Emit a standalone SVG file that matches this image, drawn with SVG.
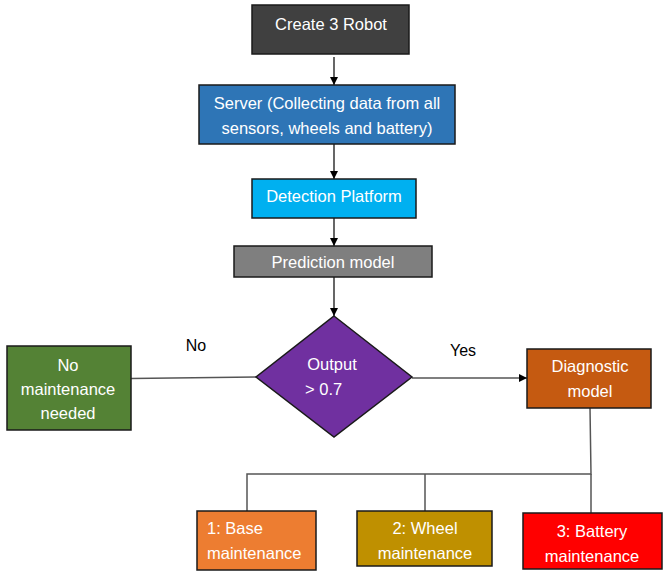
<svg xmlns="http://www.w3.org/2000/svg" width="667" height="578" viewBox="0 0 667 578">
<style>
.box{stroke:#1a1a1a;stroke-width:1.5}
.t{font-family:"Liberation Sans",Arial,sans-serif;font-size:16.5px;fill:#fff;text-anchor:middle}
.s{text-anchor:start}
.lbl{font-family:"Liberation Sans",Arial,sans-serif;font-size:16px;fill:#000;text-anchor:middle}
.c{stroke:#000;stroke-width:1.2;fill:none}
.g{stroke:#555;stroke-width:1.5;fill:none}
</style>
<defs>
<marker id="ah" viewBox="0 0 10 10" refX="10" refY="5" markerWidth="8" markerHeight="8" markerUnits="userSpaceOnUse" orient="auto">
<path d="M0,0 L10,5 L0,10 z" fill="#000"/>
</marker>
</defs>
<rect width="667" height="578" fill="#fff"/>
<g id="connectors">
<line class="c" x1="334" y1="57" x2="334" y2="85" marker-end="url(#ah)"/>
<line class="c" x1="334" y1="144" x2="334" y2="179" marker-end="url(#ah)"/>
<line class="c" x1="334" y1="218" x2="334" y2="246" marker-end="url(#ah)"/>
<line class="c" x1="334" y1="277" x2="334" y2="316" marker-end="url(#ah)"/>
<line class="g" x1="131" y1="378.5" x2="256" y2="377"/>
<line class="c" x1="412" y1="378" x2="527" y2="378" marker-end="url(#ah)"/>
<polyline class="g" points="590,408 591,474 247,474 247,511"/>
<line class="g" x1="425" y1="474" x2="425" y2="511"/>
<line class="g" x1="591" y1="474" x2="591" y2="513"/>
<text class="lbl" x="196" y="351">No</text>
<text class="lbl" x="463" y="356">Yes</text>
</g>
<g id="create">
<rect class="box" x="252" y="5" width="157" height="49" fill="#404040"/>
<text class="t" x="331" y="30">Create 3 Robot</text>
</g>
<g id="server">
<rect class="box" x="199" y="85" width="256" height="59" fill="#2E75B6"/>
<text class="t" x="327" y="109">Server (Collecting data from all</text>
<text class="t" x="327" y="134">sensors, wheels and battery)</text>
</g>
<g id="detection">
<rect class="box" x="252" y="179" width="164" height="39" fill="#00B0F0"/>
<text class="t" x="334" y="202">Detection Platform</text>
</g>
<g id="prediction">
<rect class="box" x="234" y="246" width="198" height="31" fill="#7F7F7F"/>
<text class="t" x="333" y="268">Prediction model</text>
</g>
<g id="decision">
<polygon class="box" points="334,316 412,377 334,437 256,377" fill="#7030A0" stroke-width="1"/>
<text class="t" x="332" y="370">Output</text>
<text class="t s" x="305" y="395">&gt; 0.7</text>
</g>
<g id="nomaint">
<rect class="box" x="7" y="346" width="124" height="84" fill="#548235"/>
<text class="t" x="68" y="371">No</text>
<text class="t" x="68" y="395">maintenance</text>
<text class="t" x="68" y="419">needed</text>
</g>
<g id="diagnostic">
<rect class="box" x="527" y="349" width="124" height="59" fill="#C55A11"/>
<text class="t" x="590" y="372">Diagnostic</text>
<text class="t" x="590" y="397">model</text>
</g>
<g id="base">
<rect class="box" x="197" y="511" width="119" height="59" fill="#ED7D31"/>
<text class="t s" x="207" y="534">1: Base</text>
<text class="t s" x="207" y="559">maintenance</text>
</g>
<g id="wheel">
<rect class="box" x="357" y="511" width="135" height="55" fill="#BF9000"/>
<text class="t" x="425" y="534">2: Wheel</text>
<text class="t" x="425" y="559">maintenance</text>
</g>
<g id="battery">
<rect class="box" x="523" y="513" width="139" height="56" fill="#FF0000"/>
<text class="t" x="592" y="537">3: Battery</text>
<text class="t" x="592" y="562">maintenance</text>
</g>
</svg>
